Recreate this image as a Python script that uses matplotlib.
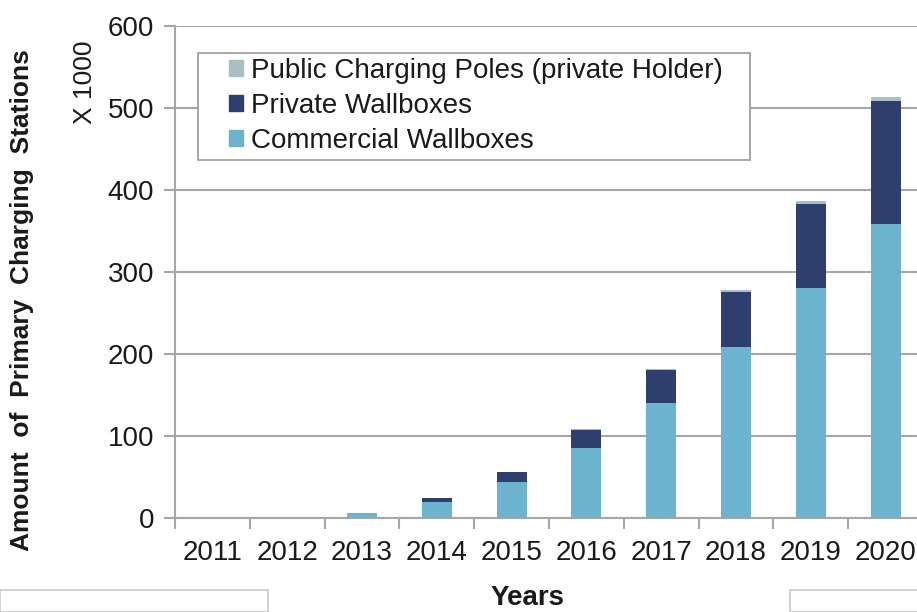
import matplotlib
matplotlib.use("Agg")
import matplotlib.pyplot as plt
from matplotlib.patches import Patch, Rectangle

plt.rcParams['font.family'] = ['Liberation Sans', 'DejaVu Sans']

# Primary charging stations (thousands)
years = ['2011', '2012', '2013', '2014', '2015', '2016', '2017', '2018', '2019', '2020']
commercial_wallboxes = [0, 0, 6, 19, 44, 85, 140, 209, 280, 359]
private_wallboxes = [0, 0, 0.5, 5, 12, 22, 40.5, 67, 103, 150]
public_poles_private_holder = [0, 0, 0, 0.3, 0.5, 1, 1.5, 2.5, 3.5, 5]
y_ticks = [0, 100, 200, 300, 400, 500, 600]

c_comm = '#6cb4cd'
c_priv = '#2e3f6e'
c_pub = '#a9bfc2'
grid_c = '#a6a6a6'
text_c = '#1a1a1a'

fig = plt.figure(figsize=(9.17, 6.12), dpi=100)
ax = fig.add_axes([175 / 917, 94 / 612, 748 / 917, 492 / 612])

x = list(range(len(years)))
w = 0.4
ax.bar(x, commercial_wallboxes, width=w, color=c_comm, zorder=3)
ax.bar(x, private_wallboxes, width=w, bottom=commercial_wallboxes, color=c_priv, zorder=3)
bottom2 = [a + b for a, b in zip(commercial_wallboxes, private_wallboxes)]
ax.bar(x, public_poles_private_holder, width=w, bottom=bottom2, color=c_pub, zorder=3)

ax.set_xlim(-0.5, len(years) - 0.5)
ax.set_ylim(0, 600)
ax.set_yticks(y_ticks)
ax.set_yticklabels([str(v) for v in y_ticks])
ax.yaxis.grid(True, color=grid_c, linewidth=1.5, zorder=0)
ax.set_axisbelow(True)

ax.set_xticks(x)
ax.set_xticklabels(years)
ax.set_xticks([i - 0.5 for i in range(len(years) + 1)], minor=True)
ax.tick_params(axis='x', which='major', length=0, pad=16, labelsize=20, labelcolor=text_c)
ax.tick_params(axis='x', which='minor', length=8, width=1.5, color=grid_c, direction='out')
ax.tick_params(axis='y', length=8, width=1.5, color=grid_c, pad=7, labelsize=20, labelcolor=text_c)

for s in ['top', 'right']:
    ax.spines[s].set_visible(False)
for s in ['left', 'bottom']:
    ax.spines[s].set_color(grid_c)
    ax.spines[s].set_linewidth(1.5)

# legend frame drawn separately so its padding can be set per side
fig.add_artist(Rectangle((198 / 917, 1 - 160 / 612), (750 - 198) / 917, (160 - 53) / 612,
                         transform=fig.transFigure, facecolor='white', edgecolor='#9a9a9a',
                         linewidth=1.2, zorder=4))
handles = [Patch(color=c_pub), Patch(color=c_priv), Patch(color=c_comm)]
labels = ['Public Charging Poles (private Holder)', 'Private Wallboxes', 'Commercial Wallboxes']
leg = fig.legend(handles, labels, loc='center left', bbox_to_anchor=(229 / 917, 1 - 106 / 612),
                 fontsize=20, frameon=False,
                 handlelength=0.5, handleheight=0.5, handletextpad=0.3,
                 labelspacing=0.32, borderpad=0, borderaxespad=0)
leg.set_zorder(5)
for t in leg.get_texts():
    t.set_color(text_c)

fig.text(22 / 917, 1 - 300 / 612, 'Amount  of  Primary  Charging  Stations', rotation=90,
         ha='center', va='center', fontsize=19, fontweight='bold', color=text_c)
fig.text(85 / 917, 1 - 82 / 612, 'X 1000', rotation=90, ha='center', va='center',
         fontsize=19, color=text_c)
fig.text(528 / 917, 1 / 612, 'Years', ha='center', va='bottom',
         fontsize=20, fontweight='bold', color=text_c)

# neighbouring frames along the lower edge
for x0, x1 in [(0, 268), (790, 930)]:
    fig.add_artist(Rectangle((x0 / 917, 0), (x1 - x0) / 917, (612 - 590) / 612,
                             transform=fig.transFigure, facecolor='white',
                             edgecolor='#c8c8c8', linewidth=1.2, clip_on=False, zorder=0))

fig.savefig('out.png', dpi=100, facecolor='white')
